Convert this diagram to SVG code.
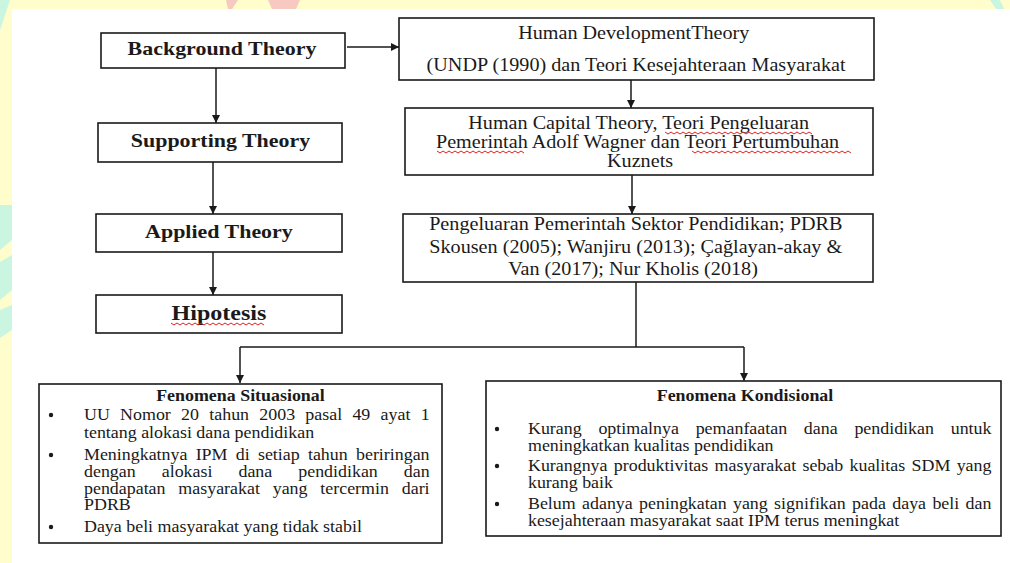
<svg xmlns="http://www.w3.org/2000/svg" width="1010" height="563" viewBox="0 0 1010 563">
<defs>
<style>
.box{fill:#fff;stroke:#1a1a1a;stroke-width:1.6}
.ln{fill:none;stroke:#1a1a1a;stroke-width:1.5}
.b{font-family:"Liberation Serif","Times New Roman",serif;font-weight:bold;fill:#1a1a1a}
.r{font-family:"Liberation Serif","Times New Roman",serif;fill:#1a1a1a}
.sq{fill:none;stroke:#e02020;stroke-width:1}
.dot{fill:#1a1a1a}
</style>
<marker id="ah" viewBox="0 0 8 8" markerWidth="8" markerHeight="8" refX="8" refY="4" orient="auto" markerUnits="userSpaceOnUse">
<path d="M0,0 L8,4 L0,8 z" fill="#1a1a1a"/>
</marker>
</defs>
<g id="background">
<rect x="0" y="0" width="1010" height="563" fill="#fefdcb"/>
<polygon points="0,0 10,0 0,30" fill="#c9f5e1"/>
<polygon points="0,205 12,205 12,240 0,250" fill="#c9f5e1"/>
<polygon points="0,262 12,255 12,290 0,300" fill="#c9f5e1"/>
<polygon points="0,310 12,305 12,330 0,338" fill="#c9f5e1"/>
<polygon points="226,0 238,0 232,9 228,9" fill="#f8c9c0"/>
<polygon points="268,0 300,0 296,9 272,9" fill="#f8c9c0"/>
<polygon points="990,0 1000,0 1004,9 996,9" fill="#c9f5e1"/>
<rect x="12" y="9" width="998" height="554" fill="#ffffff"/>
</g>
<g id="connectors">
<path class="ln" d="M347,47 L399,47" marker-end="url(#ah)"/>
<path class="ln" d="M216,68 L216,123" marker-end="url(#ah)"/>
<path class="ln" d="M213,162 L213,214" marker-end="url(#ah)"/>
<path class="ln" d="M213,252 L213,295" marker-end="url(#ah)"/>
<path class="ln" d="M631,80 L631,108" marker-end="url(#ah)"/>
<path class="ln" d="M632,175 L632,214" marker-end="url(#ah)"/>
<path class="ln" d="M636,282 L636,347 M240,347 L744,347"/>
<path class="ln" d="M240,347 L240,383" marker-end="url(#ah)"/>
<path class="ln" d="M744,347 L744,381" marker-end="url(#ah)"/>
</g>
<g id="background-theory">
<rect class="box" x="101" y="33" width="244" height="35"/>
<text class="b" transform="scale(1.12,1)" x="198.2" y="55" font-size="19.6" text-anchor="middle">Background Theory</text>
</g>
<g id="supporting-theory">
<rect class="box" x="98" y="123" width="244" height="39"/>
<text class="b" transform="scale(1.12,1)" x="196.9" y="147" font-size="19.6" text-anchor="middle">Supporting Theory</text>
</g>
<g id="applied-theory">
<rect class="box" x="96" y="214" width="246" height="38"/>
<text class="b" transform="scale(1.12,1)" x="195.5" y="238" font-size="19.6" text-anchor="middle">Applied Theory</text>
</g>
<g id="hipotesis">
<rect class="box" x="96" y="295" width="246" height="38"/>
<text class="b" transform="scale(1.12,1)" x="195.5" y="320" font-size="21.5" text-anchor="middle">Hipotesis</text>
<path class="sq" d="M171,323 l3,2 l3,-2 l3,2 l3,-2 l3,2 l3,-2 l3,2 l3,-2 l3,2 l3,-2 l3,2 l3,-2 l3,2 l3,-2 l3,2 l3,-2 l3,2 l3,-2 l3,2 l3,-2 l3,2 l3,-2 l3,2 l3,-2 l3,2 l3,-2 l3,2 l3,-2 l3,2 l3,-2 l3,2"/>
</g>
<g id="human-development">
<rect class="box" x="399" y="18" width="475" height="62"/>
<text class="r" transform="scale(1.12,1)" font-size="18" text-anchor="middle">
<tspan x="568.1" y="39">Human DevelopmentTheory</tspan>
<tspan x="567.9" y="71">(UNDP (1990) dan Teori Kesejahteraan Masyarakat</tspan>
</text>
</g>
<g id="human-capital">
<rect class="box" x="405" y="108" width="468" height="67"/>
<text class="r" transform="scale(1.12,1)" font-size="18" text-anchor="middle">
<tspan x="572.5" y="129">Human Capital Theory, Teori Pengeluaran</tspan>
<tspan x="571.5" y="148">Pemerintah Adolf Wagner dan Teori Pertumbuhan</tspan>
<tspan x="571.5" y="167">Kuznets</tspan>
</text>
<path class="sq" d="M665,132 l3,2 l3,-2 l3,2 l3,-2 l3,2 l3,-2 l3,2 l3,-2 l3,2 l3,-2 l3,2 l3,-2 l3,2 l3,-2 l3,2 l3,-2 l3,2 l3,-2 l3,2 l3,-2 l3,2 l3,-2 l3,2 l3,-2 l3,2 l3,-2 l3,2 l3,-2 l3,2 l3,-2 l3,2 l3,-2 l3,2 l3,-2 l3,2 l3,-2 l3,2 l3,-2 l3,2 l3,-2 l3,2 l3,-2 l3,2 l3,-2 l3,2 l3,-2 l3,2 l3,-2 l3,2"/>
<path class="sq" d="M437,151 l3,2 l3,-2 l3,2 l3,-2 l3,2 l3,-2 l3,2 l3,-2 l3,2 l3,-2 l3,2 l3,-2 l3,2 l3,-2 l3,2 l3,-2 l3,2 l3,-2 l3,2 l3,-2 l3,2 l3,-2 l3,2 l3,-2 l3,2 l3,-2 l3,2 l3,-2 l3,2"/>
<path class="sq" d="M692,151 l3,2 l3,-2 l3,2 l3,-2 l3,2 l3,-2 l3,2 l3,-2 l3,2 l3,-2 l3,2 l3,-2 l3,2 l3,-2 l3,2 l3,-2 l3,2 l3,-2 l3,2 l3,-2 l3,2 l3,-2 l3,2 l3,-2 l3,2 l3,-2 l3,2 l3,-2 l3,2 l3,-2 l3,2 l3,-2 l3,2 l3,-2 l3,2 l3,-2 l3,2 l3,-2 l3,2 l3,-2 l3,2 l3,-2 l3,2 l3,-2 l3,2 l3,-2 l3,2 l3,-2 l3,2 l3,-2 l3,2 l3,-2 l3,2"/>
</g>
<g id="applied-studies">
<rect class="box" x="403" y="214" width="470" height="68"/>
<text class="r" transform="scale(1.12,1)" font-size="18" text-anchor="middle">
<tspan x="569.9" y="230">Pengeluaran Pemerintah Sektor Pendidikan; PDRB</tspan>
<tspan x="569.9" y="253">Skousen (2005); Wanjiru (2013); Çağlayan-akay &amp;</tspan>
<tspan x="565.2" y="275">Van (2017); Nur Kholis (2018)</tspan>
</text>
</g>
<g id="fenomena-situasional">
<rect class="box" x="39" y="384" width="403" height="159"/>
<text class="b" transform="scale(1.12,1)" x="214.7" y="401" font-size="16" text-anchor="middle">Fenomena Situasional</text>
<circle class="dot" cx="51" cy="415" r="2.2"/>
<circle class="dot" cx="51" cy="455" r="2.2"/>
<circle class="dot" cx="51" cy="527" r="2.2"/>
<g class="r" transform="scale(1.12,1)" font-size="16">
<text x="75" y="420" word-spacing="5.17">UU Nomor 20 tahun 2003 pasal 49 ayat 1</text>
<text x="75" y="438">tentang alokasi dana pendidikan</text>
<text x="75" y="460" word-spacing="3.38">Meningkatnya IPM di setiap tahun beriringan</text>
<text x="75" y="477" word-spacing="19.24">dengan alokasi dana pendidikan dan</text>
<text x="75" y="494" word-spacing="7.47">pendapatan masyarakat yang tercermin dari</text>
<text x="75" y="510">PDRB</text>
<text x="75" y="532">Daya beli masyarakat yang tidak stabil</text>
</g>
</g>
<g id="fenomena-kondisional">
<rect class="box" x="486" y="381" width="515" height="155"/>
<text class="b" transform="scale(1.12,1)" x="665.2" y="401" font-size="16" text-anchor="middle">Fenomena Kondisional</text>
<circle class="dot" cx="497" cy="429" r="2.2"/>
<circle class="dot" cx="497" cy="466" r="2.2"/>
<circle class="dot" cx="497" cy="504" r="2.2"/>
<g class="r" transform="scale(1.12,1)" font-size="16">
<text x="471.4" y="434" word-spacing="10.96">Kurang optimalnya pemanfaatan dana pendidikan untuk</text>
<text x="471.4" y="451">meningkatkan kualitas pendidikan</text>
<text x="471.4" y="471" word-spacing="1.65">Kurangnya produktivitas masyarakat sebab kualitas SDM yang</text>
<text x="471.4" y="488">kurang baik</text>
<text x="471.4" y="509" word-spacing="1.69">Belum adanya peningkatan yang signifikan pada daya beli dan</text>
<text x="471.4" y="526">kesejahteraan masyarakat saat IPM terus meningkat</text>
</g>
</g>
</svg>
